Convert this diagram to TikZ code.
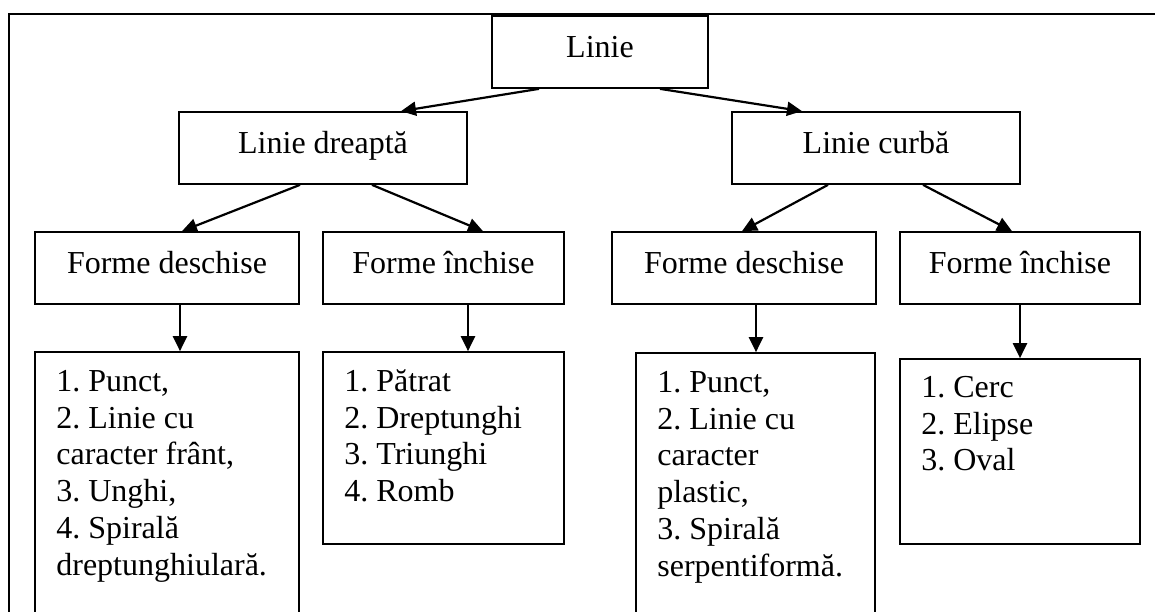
\documentclass[tikz,border=0pt]{standalone}
\usepackage{fontspec}
\setmainfont{Liberation Serif}
\usetikzlibrary{arrows.meta}
\frenchspacing
\tikzset{
  box/.style={draw=black, line width=1.7pt, rectangle, inner sep=0pt,
    minimum height=72pt, text height=22pt, text depth=12pt,
    font=\fontsize{32}{36.8}\selectfont\frenchspacing},
  listbox/.style={draw=black, line width=1.7pt, rectangle, inner sep=0pt},
  listtext/.style={anchor=north west, inner sep=0pt, align=left,
    font=\fontsize{32}{36.8}\selectfont\frenchspacing},
  arr/.style={line width=2.2pt, -{Triangle[length=15pt,width=14pt]}},
  frame/.style={line width=2.8pt}
}
\newcommand{\fst}{\rule{0pt}{26pt}}
\begin{document}
\begin{tikzpicture}[x=1pt,y=-1pt]
\useasboundingbox (0,0) rectangle (1155,611);
% frame
\coordinate (ftl) at (9,14);
\coordinate (ftr) at (1170,14);
\coordinate (fbl) at (9,640);
\draw[frame] (ftr) -- (ftl) -- (fbl);
% top level
\node[box, minimum width=216pt] (L) at (600,52) {Linie};
\node[box, minimum width=288pt] (LD) at (323,148) {Linie dreaptă};
\node[box, minimum width=288pt] (LC) at (876,148) {Linie curbă};
% third level
\node[box, minimum width=264pt] (FD1) at (167,268) {Forme deschise};
\node[box, minimum width=241pt] (FI1) at (443.5,268) {Forme închise};
\node[box, minimum width=264pt] (FD2) at (744,268) {Forme deschise};
\node[box, minimum width=240pt] (FI2) at (1020,268) {Forme închise};
% list boxes
\node[listbox, minimum width=264pt, minimum height=288pt] (B1) at (167,496) {};
\node[listbox, minimum width=241pt, minimum height=192pt] (B2) at (443.5,448) {};
\node[listbox, minimum width=239pt, minimum height=287pt] (B3) at (755.5,496.5) {};
\node[listbox, minimum width=240pt, minimum height=185pt] (B4) at (1020,451.5) {};
\node[listtext] (T1) at ([xshift=22pt,yshift=-14pt]B1.north west)
  {\fst 1. Punct,\\ 2. Linie cu\\ caracter frânt,\\ 3. Unghi,\\ 4. Spirală\\ dreptunghiulară.};
\node[listtext] (T2) at ([xshift=22pt,yshift=-14pt]B2.north west)
  {\fst 1. Pătrat\\ 2. Dreptunghi\\ 3. Triunghi\\ 4. Romb};
\node[listtext] (T3) at ([xshift=22pt,yshift=-14pt]B3.north west)
  {\fst 1. Punct,\\ 2. Linie cu\\ caracter\\ plastic,\\ 3. Spirală\\ serpentiformă.};
\node[listtext] (T4) at ([xshift=22pt,yshift=-13pt]B4.north west)
  {\fst 1. Cerc\\ 2. Elipse\\ 3. Oval};
% connectors
\draw[arr] ([xshift=-61pt]L.south) -- ([xshift=78pt]LD.north);
\draw[arr] ([xshift=60pt]L.south) -- ([xshift=-74pt]LC.north);
\draw[arr] ([xshift=-23pt]LD.south) -- ([xshift=15pt]FD1.north);
\draw[arr] ([xshift=49pt]LD.south) -- ([xshift=39.5pt]FI1.north);
\draw[arr] ([xshift=-48pt]LC.south) -- ([xshift=-2pt]FD2.north);
\draw[arr] ([xshift=47pt]LC.south) -- ([xshift=-8pt]FI2.north);
\draw[arr] ([xshift=13pt]FD1.south) -- ([xshift=13pt]B1.north);
\draw[arr] ([xshift=24.5pt]FI1.south) -- ([xshift=24.5pt]B2.north);
\draw[arr] ([xshift=12pt]FD2.south) -- ([xshift=0.5pt]B3.north);
\draw[arr] (FI2.south) -- (B4.north);
\end{tikzpicture}
\end{document}
